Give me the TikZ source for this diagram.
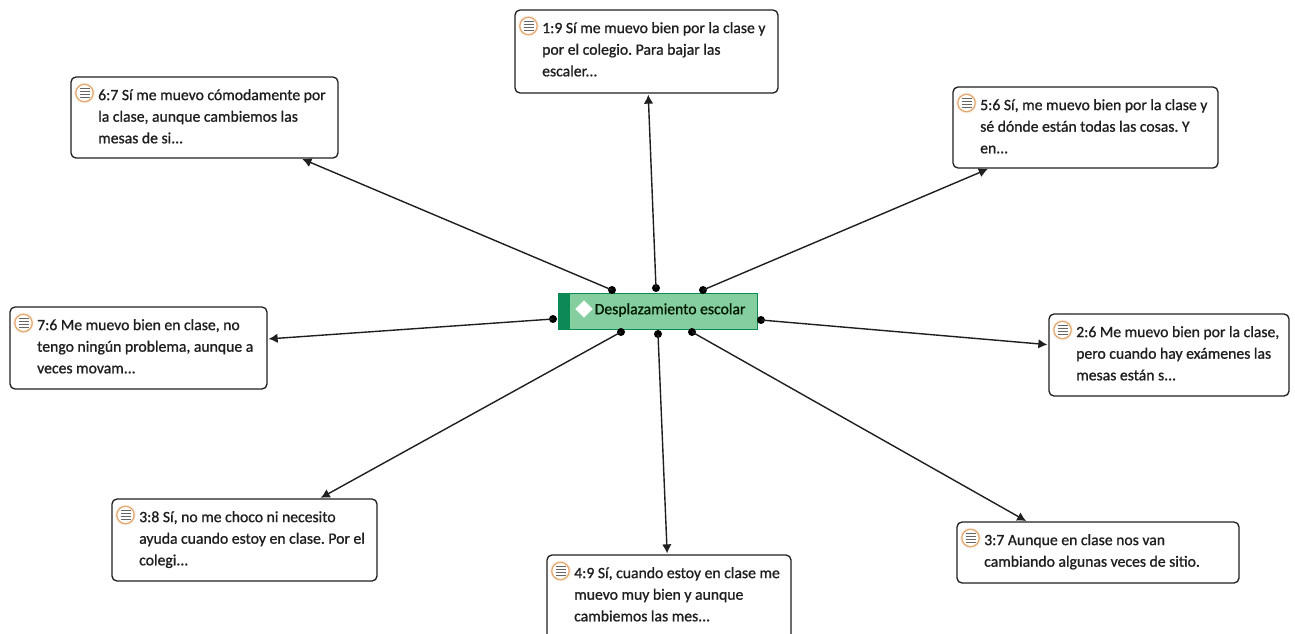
\documentclass[tikz,border=0pt]{standalone}
\usepackage{fontspec}
\usetikzlibrary{arrows.meta,shapes.geometric}
\setmainfont{Carlito}[RawFeature={embolden=1.0}]
\definecolor{cgreen}{HTML}{84CE9F}
\definecolor{dgreen}{HTML}{0B8A55}
\definecolor{ink}{HTML}{1F1F1F}
\definecolor{ring}{HTML}{E3A66C}
\tikzset{
  quote/.style={draw=ink,line width=1.3pt,rounded corners=5pt,fill=white,inner sep=0pt,anchor=center},
  quotetext/.style={inner sep=0pt,anchor=north west,align=left,text=ink,font=\fontsize{15.7}{21.6}\selectfont\frenchspacing},
  hub/.style={draw=dgreen,line width=0.8pt,fill=cgreen,minimum width=199pt,minimum height=36pt,inner sep=0pt,anchor=center},
  hubtext/.style={inner sep=0pt,anchor=west,font=\fontsize{15.7}{20}\selectfont,text=black!90!green},
  dotmark/.style={circle,fill=black,inner sep=0pt,minimum size=8pt},
  link/.style={draw=ink,line width=1.4pt,-{Latex[length=9pt,width=9.5pt]},shorten >=1pt},
  noteicon/.pic={
    \fill[ring!18] (0,0) circle (10.5pt);
    \draw[draw=ring,line width=1.2pt,fill=white] (0,0) circle (8.7pt);
    \foreach \yy in {-4.2,-1.4,1.4,4.2}
      \draw[black!60,line width=1pt] (-5,\yy) -- (5,\yy);
  }
}
\newcommand{\quotebox}[6]{% name, x1, y1, x2, y2, text
  \pgfmathsetmacro{\cxx}{(#2+#4)/2}\pgfmathsetmacro{\cyy}{(#3+#5)/2}
  \pgfmathsetmacro{\wdd}{#4-#2}\pgfmathsetmacro{\htt}{#5-#3}
  \node[quote,minimum width=\wdd pt,minimum height=\htt pt] (#1) at (\cxx,\cyy) {};
  \node[quotetext] (#1text) at (#2+27,#3+12) {#6};
  \pic at (#2+13.5,#3+16) {noteicon};
}
\begin{document}
\begin{tikzpicture}[x=1pt,y=-1pt]
\useasboundingbox (0,0) rectangle (1295,633);
\fill[white] (0,0) rectangle (1295,633);
% hub
\node[hub] (hub) at (657.5,311) {};
\fill[dgreen] (558,293) rectangle (570,329);
\node[hubtext] (hubtitle) at (594.5,310) {Desplazamiento escolar};
\node[diamond,aspect=1,fill=white,draw=white,inner sep=0pt,minimum size=17pt] (hubicon) at (584,309) {};
% boxes
\quotebox{a}{515}{10}{778}{93}{1:9 Sí me muevo bien por la clase y\\por el colegio. Para bajar las\\escaler...}
\quotebox{b}{71}{77}{338}{158}{6:7 Sí me muevo cómodamente por\\la clase, aunque cambiemos las\\mesas de si...}
\quotebox{c}{953}{87}{1218}{168}{5:6 Sí, me muevo bien por la clase y\\sé dónde están todas las cosas. Y\\en...}
\quotebox{d}{10}{307}{267}{389}{7:6 Me muevo bien en clase, no\\tengo ningún problema, aunque a\\veces movam...}
\quotebox{e}{1049}{314}{1289}{396}{2:6 Me muevo bien por la clase,\\pero cuando hay exámenes las\\mesas están s...}
\quotebox{f}{112}{499}{377}{581}{3:8 Sí, no me choco ni necesito\\ayuda cuando estoy en clase. Por el\\colegi...}
\quotebox{g}{547}{555}{791}{640}{4:9 Sí, cuando estoy en clase me\\muevo muy bien y aunque\\cambiemos las mes...}
\quotebox{h}{957}{522}{1239}{583}{3:7 Aunque en clase nos van\\cambiando algunas veces de sitio.}
\coordinate (hentry) at (1027,521.5);
% dots
\node[dotmark] (db) at (612,290) {};
\node[dotmark] (da) at (656,288) {};
\node[dotmark] (dc) at (703,290) {};
\node[dotmark] (dd) at (553,319) {};
\node[dotmark] (de) at (761,320) {};
\node[dotmark] (df) at (621,332) {};
\node[dotmark] (dg) at (658,334) {};
\node[dotmark] (dh) at (692,332) {};
% links
\foreach \s/\t in {da/a,db/b,dc/c,dd/d,de/e,df/f,dg/g,dh/hentry}
  \draw[link] (\s.center) -- (\t);
\end{tikzpicture}
\end{document}
